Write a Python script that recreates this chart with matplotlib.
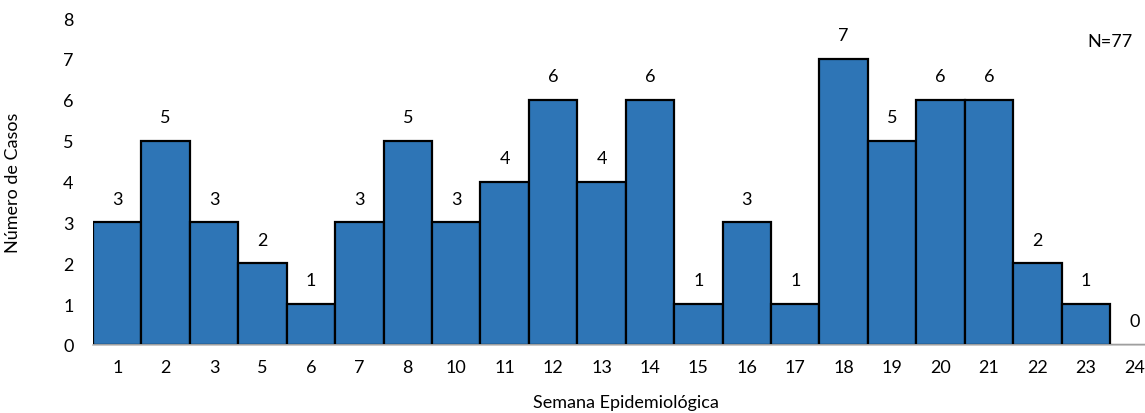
import matplotlib
matplotlib.use("Agg")
import matplotlib.pyplot as plt

semanas = ["1", "2", "3", "5", "6", "7", "8", "10", "11", "12", "13", "14",
           "15", "16", "17", "18", "19", "20", "21", "22", "23", "24"]
casos = [3, 5, 3, 2, 1, 3, 5, 3, 4, 6, 4, 6, 1, 3, 1, 7, 5, 6, 6, 2, 1, 0]
yticks = [0, 1, 2, 3, 4, 5, 6, 7, 8]
total_label = "N=77"

plt.rcParams['font.family'] = ['Lato', 'DejaVu Sans']
fs = 13

fig = plt.figure(figsize=(11.45, 4.14), dpi=100)
ax = fig.add_axes([93/1145, 68/414, 1065.5/1145, 327/414])

x = list(range(len(semanas)))
ax.bar(x, casos, width=1.0, color="#2E75B6", edgecolor="black", linewidth=1.6, zorder=2)

for xi, v in zip(x, casos):
    ax.text(xi, v + 0.58, str(v), ha="center", va="center", fontsize=fs)

ax.set_xlim(-0.5, len(semanas) - 0.5)
ax.set_ylim(0, 8)
ax.set_xticks(x)
ax.set_xticklabels(semanas, fontsize=fs)
ax.set_yticks(yticks)
ax.set_yticklabels([str(t) for t in yticks], fontsize=fs)
ax.tick_params(axis="both", length=0)
ax.tick_params(axis="x", pad=10)
ax.tick_params(axis="y", pad=14)

for side in ["top", "right", "left"]:
    ax.spines[side].set_visible(False)
ax.spines["bottom"].set_color("#BFBFBF")
ax.spines["bottom"].set_linewidth(1.2)

ax.set_xlabel("Semana Epidemiológica", fontsize=fs, labelpad=14)
ax.set_ylabel("Número de Casos", fontsize=fs, labelpad=30)

fig.text(1110/1145, 1 - 42/414, total_label, ha="center", va="center", fontsize=fs)

fig.savefig("out.png", dpi=100)
